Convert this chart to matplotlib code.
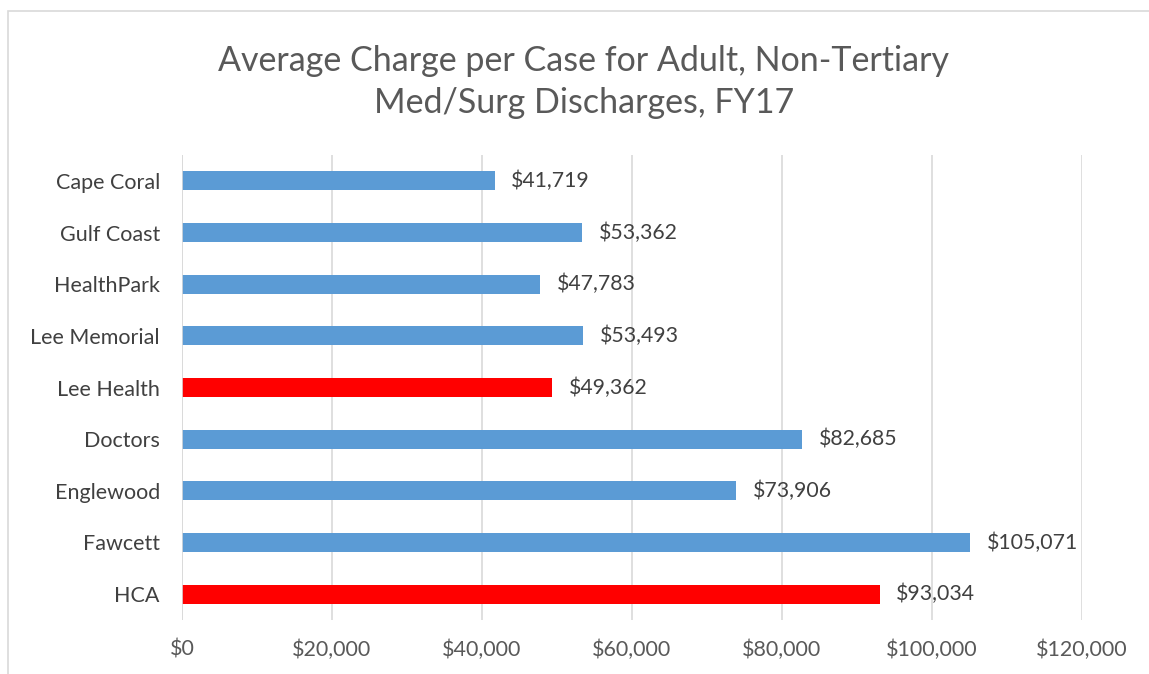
import matplotlib
matplotlib.use('Agg')
from matplotlib import pyplot as plt
from matplotlib.patches import Rectangle

# Chart data
hospitals = ['Cape Coral', 'Gulf Coast', 'HealthPark', 'Lee Memorial', 'Lee Health',
             'Doctors', 'Englewood', 'Fawcett', 'HCA']
charges = [41719, 53362, 47783, 53493, 49362, 82685, 73906, 105071, 93034]
highlight = ['Lee Health', 'HCA']
xticks = [0, 20000, 40000, 60000, 80000, 100000, 120000]

title = 'Average Charge per Case for Adult, Non-Tertiary\nMed/Surg Discharges, FY17'

blue = '#5b9bd5'
red = '#ff0000'
text_col = '#595959'
grid_col = '#d9d9d9'

plt.rcParams['font.family'] = ['Lato', 'DejaVu Sans']

W, H = 1149, 674
fig = plt.figure(figsize=(W / 100, H / 100), dpi=100)

# outer chart border (runs off the right and bottom edges)
fig.patches.append(Rectangle((8 / W, -0.1), 1.2, 1 - 11 / H + 0.1, transform=fig.transFigure,
                             fill=False, edgecolor=grid_col, linewidth=1.2))

ax = fig.add_axes([182 / W, 1 - 620 / H, 900 / W, 465 / H])

colors = [red if h in highlight else blue for h in hospitals]
ypos = list(range(len(hospitals)))
ax.barh(ypos, charges, height=0.37, color=colors, zorder=3)

for y, v in zip(ypos, charges):
    ax.text(v + 2200, y, '${:,}'.format(v), va='center', ha='left', fontsize=15.3, color='#404040')

ax.set_ylim(len(hospitals) - 0.5, -0.5)
ax.set_xlim(0, 120000)
ax.set_yticks(ypos)
ax.set_yticklabels(hospitals, fontsize=15.5, color='#404040')
ax.set_xticks(xticks)
ax.set_xticklabels(['${:,}'.format(t) for t in xticks], fontsize=15.5, color=text_col)
ax.tick_params(axis='both', length=0)
ax.tick_params(axis='x', pad=14)
ax.tick_params(axis='y', pad=16)
ax.grid(axis='x', color=grid_col, linewidth=1.2, zorder=0)
for s in ax.spines.values():
    s.set_visible(False)
ax.axvline(0, color=grid_col, linewidth=1.2, zorder=4)

fig.text(584 / W, 1 - 82 / H, title, ha='center', va='center', fontsize=24.5, color=text_col,
         linespacing=1.38)

fig.savefig('out.png', dpi=100)
